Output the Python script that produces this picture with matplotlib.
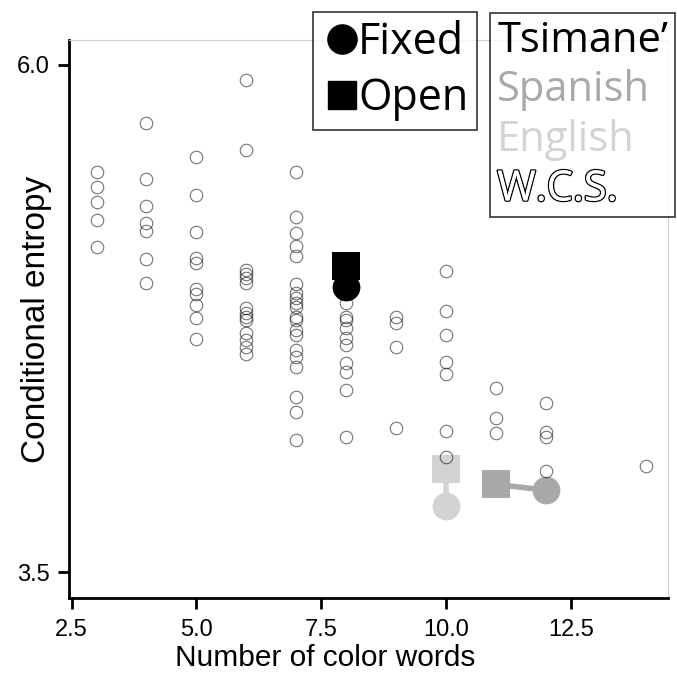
import matplotlib.pyplot as plt
import matplotlib.patheffects as pe
from matplotlib.lines import Line2D
import numpy as np

# W.C.S. languages: number of color words -> conditional entropy values
wcs_cols = {
    3: [5.471, 5.397, 5.326, 5.236, 5.103],
    4: [5.713, 5.438, 5.306, 5.222, 5.183, 5.043, 4.927],
    5: [5.545, 5.360, 5.175, 5.047, 5.025, 4.895, 4.871, 4.814, 4.752, 4.649],
    6: [5.926, 5.581, 4.989, 4.969, 4.950, 4.925, 4.800, 4.776, 4.759,
        4.743, 4.677, 4.644, 4.611, 4.575],
    7: [5.471, 5.252, 5.173, 5.109, 5.058, 4.920, 4.874, 4.851, 4.826,
        4.807, 4.759, 4.743, 4.694, 4.669, 4.595, 4.562, 4.512, 4.364,
        4.290, 4.151],
    8: [4.825, 4.759, 4.743, 4.702, 4.652, 4.619, 4.529, 4.488, 4.397, 4.166],
    9: [4.757, 4.728, 4.608, 4.212],
    10: [4.984, 4.788, 4.669, 4.537, 4.476, 4.197, 4.066],
    11: [4.406, 4.258, 4.187],
    12: [4.335, 4.189, 4.164, 3.998],
    14: [4.023],
}
wcs_x = np.concatenate([[k] * len(v) for k, v in wcs_cols.items()])
wcs_y = np.concatenate(list(wcs_cols.values()))

# study languages: (n words, entropy) for fixed and open tasks
langs = ["Tsimane\u2019", "Spanish", "English"]
lang_colors = ["black", "#a9a9a9", "#d3d3d3"]
fixed_x = [8, 12, 10]
fixed_y = [4.905, 3.904, 3.827]
open_x = [8, 11, 10]
open_y = [5.009, 3.932, 4.008]

fig = plt.figure(figsize=(6.77, 6.75), dpi=100)
ax = fig.add_axes([0.102, 0.114, 0.885, 0.827])

for i in range(len(langs)):
    ax.plot([fixed_x[i], open_x[i]], [fixed_y[i], open_y[i]], '-',
            color=lang_colors[i], lw=4, zorder=2)
    ax.plot(fixed_x[i], fixed_y[i], 'o', ms=20, color=lang_colors[i], mew=0, zorder=3)
    ax.plot(open_x[i], open_y[i], 's', ms=20, color=lang_colors[i], mew=0, zorder=3)

ax.plot(wcs_x, wcs_y, 'o', ms=9, mfc='none', mec=(0, 0, 0, 0.55), mew=0.8, zorder=4)

ax.set_xlim(2.45, 14.45)
ax.set_ylim(3.372, 6.123)
ax.set_xticks([2.5, 5.0, 7.5, 10.0, 12.5])
ax.set_xticklabels(['2.5', '5.0', '7.5', '10.0', '12.5'])
ax.set_yticks([3.5, 6.0])
ax.set_yticklabels(['3.5', '6.0'])

for s in ['left', 'bottom']:
    ax.spines[s].set_linewidth(2)
for s in ['top', 'right']:
    ax.spines[s].set_color('#cccccc')
    ax.spines[s].set_linewidth(0.8)
ax.tick_params(width=2, length=8, labelsize=17, pad=6)
ax.tick_params(axis='x', pad=7)
for lab in ax.get_xticklabels() + ax.get_yticklabels():
    lab.set_fontfamily('Liberation Sans')

ax.set_xlabel('Number of color words', fontsize=21.5, family='Liberation Sans')
ax.xaxis.set_label_coords(0.428, -0.082)
ax.set_ylabel('Conditional entropy', fontsize=24, family='Liberation Sans')
ax.yaxis.set_label_coords(-0.028, 0.5)

# legend 1: marker shapes
h1 = [Line2D([], [], marker='o', ls='none', color='black', ms=21),
      Line2D([], [], marker='s', ls='none', color='black', ms=20)]
leg1 = fig.legend(h1, ['Fixed', 'Open'], loc='upper left',
                  bbox_to_anchor=(0.462, 0.982), frameon=True, fancybox=False,
                  edgecolor='black', prop={'family': 'Open Sans', 'size': 31},
                  handlelength=0.95, handletextpad=-0.1, borderpad=0.2,
                  labelspacing=0.27, borderaxespad=0)
leg1.get_frame().set_linewidth(1.2)

# legend 2: language colors
h2 = [Line2D([], [], ls='none') for _ in range(4)]
leg2 = fig.legend(h2, langs + ['W.C.S.'], loc='upper left',
                  bbox_to_anchor=(0.724, 0.981), frameon=True, fancybox=False,
                  edgecolor='black', prop={'family': 'Open Sans', 'size': 30},
                  handlelength=0, handletextpad=0, borderpad=0.17,
                  labelspacing=0.18, borderaxespad=0,
                  labelcolor=lang_colors + ['white'])
leg2.get_frame().set_linewidth(1.2)
leg2.get_texts()[3].set_path_effects([pe.withStroke(linewidth=2, foreground='black'),
                                      pe.Normal()])

fig.savefig('out.png', dpi=100)
